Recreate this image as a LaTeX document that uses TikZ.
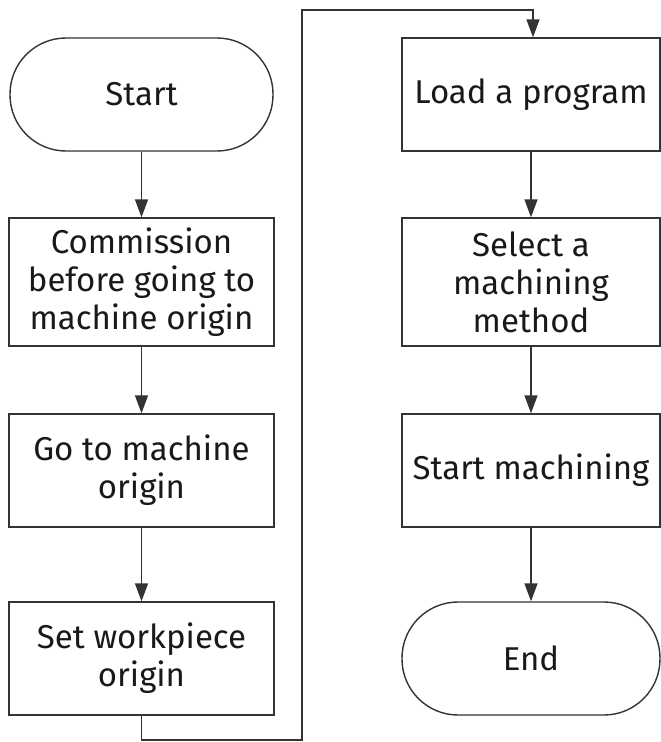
\documentclass[tikz,border=0pt]{standalone}
\usepackage{fontspec}
\setmainfont{Fira Sans}
\usetikzlibrary{arrows.meta}
\begin{document}
\begin{tikzpicture}[x=1pt,y=-1pt,
  every node/.style={font=\fontsize{33}{38}\selectfont, text=black!90, align=center, inner sep=0pt},
  procbox/.style={draw=black!80, line width=1.4pt, minimum height=#1},
  leftbox/.style={procbox=#1, minimum width=265pt},
  rightbox/.style={procbox=#1, minimum width=258pt},
  terminal/.style={draw=black!80, line width=1.4pt, rounded corners=56pt, minimum height=113pt},
  flow/.style={draw=black!80, line width=1.4pt, -{Triangle[length=18pt,width=13pt]}}]
\useasboundingbox (0,0) rectangle (661,742);
% left column
\node[terminal, minimum width=263pt] (start) at (141.5,94.5) {Start};
\node[leftbox=128pt] (comm) at (141.5,282) {Commission\\before going to\\machine origin};
\node[leftbox=113pt] (goto) at (141.5,470.5) {Go to machine\\origin};
\node[leftbox=113pt] (setwp) at (141.5,658.5) {Set workpiece\\origin};
% right column
\node[rightbox=113pt] (load) at (531,94.5) {Load a program};
\node[rightbox=128pt] (select) at (531,282) {Select a\\machining\\method};
\node[rightbox=113pt] (startm) at (531,470.5) {Start machining};
\node[terminal, minimum width=258pt] (end) at (531,658.5) {End};
% connectors
\draw[flow] (start) -- (comm);
\draw[flow] (comm) -- (goto);
\draw[flow] (goto) -- (setwp);
\coordinate (b1) at (141.5,740);
\coordinate (b2) at (302,740);
\coordinate (t1) at (302,10);
\coordinate (t2) at (533,10);
\draw[flow] (setwp.south) -- (b1) -- (b2) -- (t1) -- (t2) -- (t2 |- load.north);
\draw[flow] (load) -- (select);
\draw[flow] (select) -- (startm);
\draw[flow] (startm) -- (end);
\end{tikzpicture}
\end{document}
